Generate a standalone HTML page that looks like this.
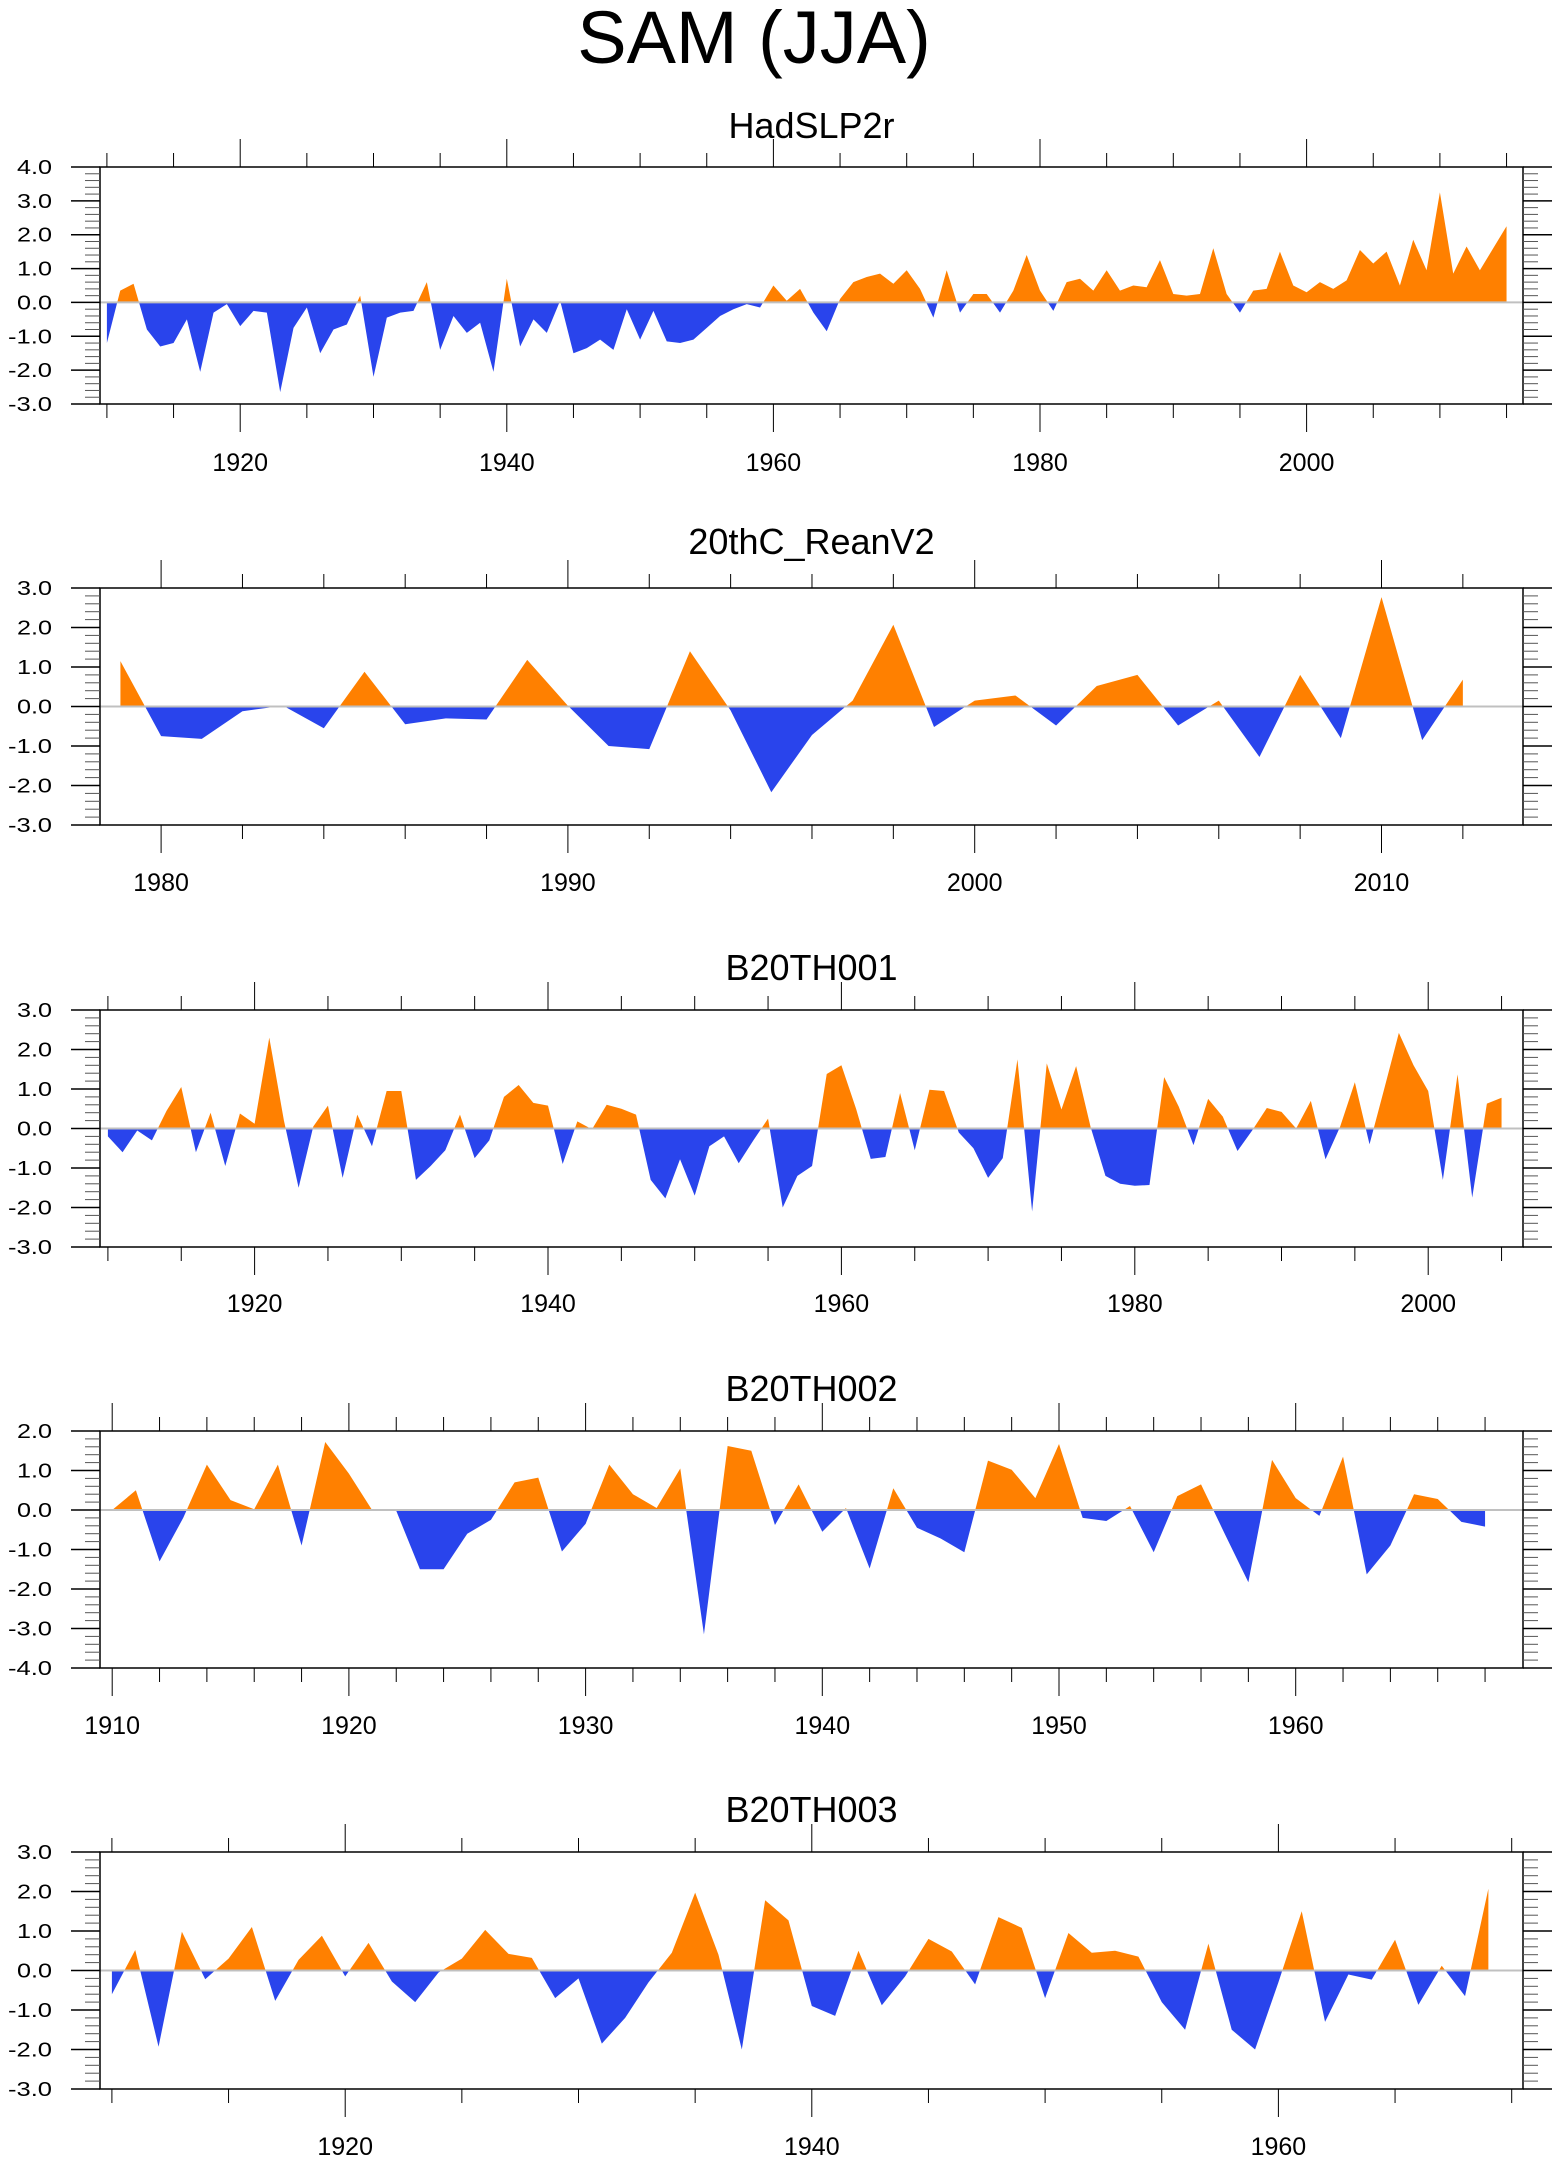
<!DOCTYPE html>
<html><head><meta charset="utf-8"><title>SAM (JJA)</title>
<style>
html,body{margin:0;padding:0;background:#fff;}
svg{display:block;font-family:"Liberation Sans",Arial,sans-serif;}
</style></head>
<body>
<svg id="chart" width="1560" height="2165" viewBox="0 0 1560 2165" xmlns="http://www.w3.org/2000/svg">
<rect x="0" y="0" width="1560" height="2165" fill="#fff"/>
<text x="754" y="63" font-size="74" text-anchor="middle" fill="#000">SAM (JJA)</text>
</svg>
<script>
// ---- data ----
const hadYears0 = 1910;
const hadValues = [-1.2,0.35,0.55,-0.8,-1.3,-1.2,-0.5,-2.05,-0.3,-0.05,
 -0.7,-0.25,-0.3,-2.65,-0.75,-0.15,-1.5,-0.8,-0.65,0.2,
 -2.2,-0.45,-0.3,-0.25,0.6,-1.4,-0.4,-0.9,-0.6,-2.05,
 0.7,-1.3,-0.5,-0.9,0.05,-1.5,-1.35,-1.1,-1.4,-0.2,
 -1.1,-0.25,-1.15,-1.2,-1.1,-0.75,-0.4,-0.2,-0.05,-0.15,
 0.5,0.05,0.4,-0.3,-0.85,0.1,0.6,0.75,0.85,0.55,
 0.95,0.4,-0.45,0.95,-0.3,0.25,0.25,-0.3,0.35,1.4,
 0.35,-0.25,0.6,0.7,0.35,0.95,0.35,0.5,0.45,1.25,
 0.25,0.2,0.25,1.6,0.25,-0.3,0.35,0.4,1.5,0.5,
 0.3,0.6,0.4,0.65,1.55,1.15,1.5,0.5,1.85,0.95,
 3.25,0.85,1.65,0.95,1.6,2.25];
const reanYears0 = 1979;
const reanValues = [1.15,-0.75,-0.82,-0.12,0.02,-0.55,0.88,-0.45,-0.3,-0.33,
 1.18,0.02,-1.0,-1.08,1.4,-0.1,-2.17,-0.72,0.15,2.07,
 -0.52,0.15,0.28,-0.48,0.52,0.8,-0.48,0.15,-1.28,0.8,
 -0.8,2.77,-0.85,0.68];
const b1Years0 = 1910;
const b1Values = [-0.2,-0.6,-0.05,-0.3,0.45,1.05,-0.6,0.4,-0.95,0.38,
 0.12,2.3,0.2,-1.5,0.05,0.58,-1.25,0.35,-0.45,0.95,
 0.95,-1.3,-0.95,-0.55,0.35,-0.75,-0.3,0.8,1.1,0.65,
 0.58,-0.9,0.18,-0.02,0.6,0.5,0.35,-1.3,-1.77,-0.78,
 -1.7,-0.45,-0.2,-0.88,-0.3,0.25,-2.0,-1.2,-0.95,1.38,
 1.6,0.5,-0.77,-0.72,0.9,-0.55,0.98,0.95,-0.1,-0.5,
 -1.25,-0.75,1.75,-2.1,1.65,0.48,1.58,0.02,-1.2,-1.4,
 -1.45,-1.43,1.3,0.55,-0.42,0.75,0.3,-0.57,-0.05,0.52,
 0.42,0.0,0.7,-0.78,0.05,1.17,-0.4,1.0,2.42,1.6,
 0.95,-1.3,1.37,-1.75,0.63,0.78];
const b2Years0 = 1910;
const b2Values = [0.0,0.5,-1.3,-0.2,1.15,0.25,0.02,1.15,-0.9,1.72,
 0.92,-0.02,-0.02,-1.5,-1.5,-0.6,-0.25,0.7,0.82,-1.05,
 -0.35,1.15,0.4,0.05,1.05,-3.15,1.62,1.5,-0.38,0.65,
 -0.55,0.05,-1.48,0.55,-0.45,-0.72,-1.07,1.25,1.02,0.3,
 1.67,-0.2,-0.28,0.1,-1.07,0.35,0.65,-0.6,-1.83,1.27,
 0.3,-0.15,1.35,-1.63,-0.9,0.4,0.28,-0.3,-0.42];
const b3Years0 = 1910;
const b3Values = [-0.6,0.52,-1.93,0.98,-0.22,0.3,1.1,-0.77,0.27,0.88,
 -0.15,0.7,-0.28,-0.8,-0.05,0.3,1.03,0.42,0.32,-0.7,
 -0.2,-1.85,-1.2,-0.3,0.45,1.97,0.4,-2.0,1.78,1.27,
 -0.9,-1.15,0.5,-0.88,-0.15,0.8,0.48,-0.35,1.35,1.08,
 -0.7,0.95,0.45,0.5,0.35,-0.8,-1.5,0.68,-1.5,-2.0,
 -0.3,1.5,-1.3,-0.1,-0.23,0.78,-0.87,0.12,-0.65,2.07];
const panelTitles = ["HadSLP2r","20thC_ReanV2","B20TH001","B20TH002","B20TH003"];
const yMins = [-3,-3,-3,-4,-3];
const yMaxs = [4,3,3,2,3];

const NS = "http://www.w3.org/2000/svg";
const svg = document.getElementById('chart');
const ORANGE = "#ff8000", BLUE = "#2944ec";
const L = 100, R = 1523;

// layout per panel: box top/bottom, year ref pixel, px per year, major/minor step, title baseline, label baseline
const layouts = [
 {top:167, bot:404, refYear:1910, refPx:106.9, ppy:13.33, major:20, minor:5, tb:138, lb:471, yr0:hadYears0, vals:hadValues},
 {top:588, bot:825, refYear:1980, refPx:161.1, ppy:40.68, major:10, minor:2, tb:554, lb:891, yr0:reanYears0, vals:reanValues},
 {top:1010, bot:1247, refYear:1920, refPx:254.6, ppy:14.67, major:20, minor:5, tb:980, lb:1312, yr0:b1Years0, vals:b1Values},
 {top:1431, bot:1668, refYear:1910, refPx:112.2, ppy:23.67, major:10, minor:2, tb:1401, lb:1734, yr0:b2Years0, vals:b2Values},
 {top:1852, bot:2089, refYear:1920, refPx:345.2, ppy:23.33, major:20, minor:5, tb:1822, lb:2155, yr0:b3Years0, vals:b3Values}
];

function mk(tag, attrs, parent){
  const e = document.createElementNS(NS, tag);
  for (const k in attrs) e.setAttribute(k, attrs[k]);
  (parent||svg).appendChild(e);
  return e;
}

layouts.forEach((p, i) => {
  const g = mk('g', {});
  
  
  const xs = yr => p.refPx + (yr - p.refYear) * p.ppy;
  const ys = v => p.bot - (v - yMins[i]) / (yMaxs[i] - yMins[i]) * (p.bot - p.top);
  const y0 = ys(0);

  // title
  const t = mk('text', {x: 811.5, y: p.tb, 'font-size': 36, 'text-anchor': 'middle', fill: '#000'}, g);
  t.textContent = panelTitles[i];
  
  

  // clip paths
  const cid = 'c' + i;
  const defs = mk('defs', {}, g);
  const cpA = mk('clipPath', {id: cid + 'a'}, defs);
  mk('rect', {x: L, y: p.top, width: R - L, height: y0 - p.top}, cpA);
  const cpB = mk('clipPath', {id: cid + 'b'}, defs);
  mk('rect', {x: L, y: y0, width: R - L, height: p.bot - y0}, cpB);

  // area path
  let d = 'M' + xs(p.yr0).toFixed(2) + ' ' + y0.toFixed(2);
  p.vals.forEach((v, k) => { d += ' L' + xs(p.yr0 + k).toFixed(2) + ' ' + ys(v).toFixed(2); });
  d += ' L' + xs(p.yr0 + p.vals.length - 1).toFixed(2) + ' ' + y0.toFixed(2) + ' Z';
  const pos = mk('path', {d: d, fill: ORANGE, 'clip-path': 'url(#' + cid + 'a)'}, g);
  
  
  const neg = mk('path', {d: d, fill: BLUE, 'clip-path': 'url(#' + cid + 'b)'}, g);
  
  

  // zero line
  const zl = mk('line', {x1: L, x2: R, y1: y0, y2: y0, stroke: '#c0c0c0', 'stroke-width': 2}, g);
  
  

  // box
  const box = mk('rect', {x: L, y: p.top, width: R - L, height: p.bot - p.top, fill: 'none', stroke: '#000', 'stroke-width': 1.5}, g);
  
  

  // x ticks
  const yStart = Math.ceil((L - p.refPx) / p.ppy + p.refYear);
  const yEnd = Math.floor((R - p.refPx) / p.ppy + p.refYear);
  for (let yr = yStart; yr <= yEnd; yr++) {
    if (yr % p.minor !== 0) continue;
    const x = xs(yr);
    const isMaj = yr % p.major === 0;
    const len = isMaj ? 28 : 14;
    mk('line', {x1: x, x2: x, y1: p.top - len, y2: p.top, stroke: '#000', 'stroke-width': 1}, g);
    mk('line', {x1: x, x2: x, y1: p.bot, y2: p.bot + len, stroke: '#000', 'stroke-width': 1}, g);
    if (isMaj) {
      const lbl = mk('text', {x: x, y: p.lb, 'font-size': 25, 'text-anchor': 'middle', fill: '#000'}, g);
      lbl.textContent = String(yr);
      
      
    }
  }
  // y ticks
  for (let k = Math.round(yMins[i] * 5); k <= Math.round(yMaxs[i] * 5); k++) {
    const v = k / 5;
    const y = ys(v);
    const isMaj = k % 5 === 0;
    const len = isMaj ? 29 : 15;
    mk('line', {x1: L - len, x2: L, y1: y, y2: y, stroke: isMaj ? '#000' : '#555', 'stroke-width': isMaj ? 1.5 : 1}, g);
    mk('line', {x1: R, x2: R + len, y1: y, y2: y, stroke: isMaj ? '#000' : '#555', 'stroke-width': isMaj ? 1.5 : 1}, g);
    if (isMaj) {
      const txt = v.toFixed(1);
      const lbl = mk('text', {x: 52, y: y + 7, 'font-size': 20, 'text-anchor': 'end', fill: '#000',
        textLength: txt.length === 3 ? 35 : 44, lengthAdjust: 'spacingAndGlyphs'}, g);
      lbl.textContent = txt;
      
      
    }
  }
});
</script>
</body></html>
